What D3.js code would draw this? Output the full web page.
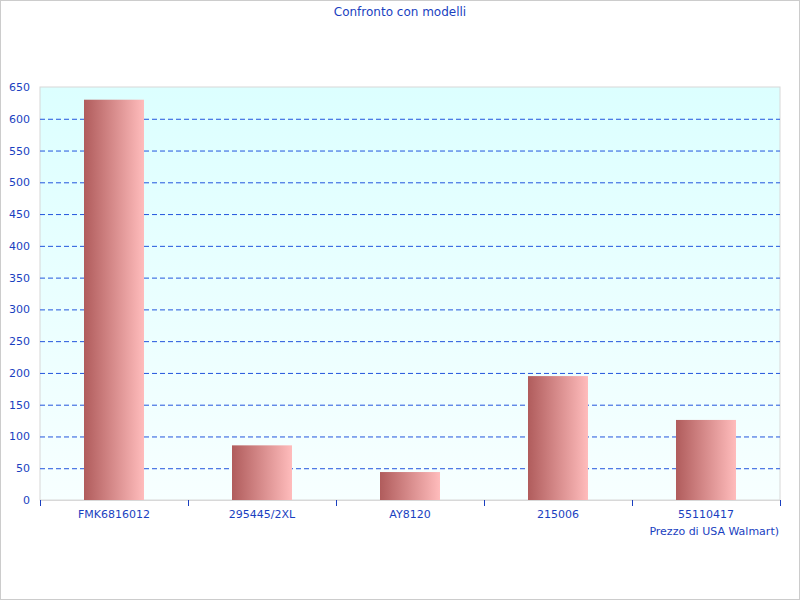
<!DOCTYPE html>
<html><head><meta charset="utf-8">
<script src="https://cdn.jsdelivr.net/npm/d3@7"></script>
<style>body{margin:0}svg{font-family:"DejaVu Sans",sans-serif}</style></head>
<body><svg id="c" width="800" height="600"></svg>
<script>
const categories=["FMK6816012","295445/2XL","AY8120","215006","55110417"];
const values=[630,86,44,195,126];
const yTicks=d3.range(0,651,50);
const svg=d3.select("#c");
const L=40,R=780,T=87,B=500,blue="#1a3fbf";
svg.append("rect").attr("x",0.5).attr("y",0.5).attr("width",799).attr("height",599).attr("fill","#fff").attr("stroke","#ccc");
const defs=svg.append("defs");
const bg=defs.append("linearGradient").attr("id","bg").attr("x1",0).attr("y1",0).attr("x2",0).attr("y2",1);
bg.append("stop").attr("offset",0).attr("stop-color","#dcffff");
bg.append("stop").attr("offset",1).attr("stop-color","#f7ffff");
const bar=defs.append("linearGradient").attr("id","bar");
bar.append("stop").attr("offset",0).attr("stop-color","#b05c5c");
bar.append("stop").attr("offset",1).attr("stop-color","#ffbcbc");
const x=d3.scaleBand().domain(categories).range([L,R]).paddingInner(0).paddingOuter(0);
const y=d3.scaleLinear().domain([0,650]).range([B,T]);
svg.append("rect").attr("x",L).attr("y",T).attr("width",R-L).attr("height",B-T).attr("fill","url(#bg)").attr("stroke","#d8d8d8");
svg.append("g").selectAll("line").data(yTicks.filter(d=>d>0&&d<650)).join("line")
 .attr("x1",L).attr("x2",R).attr("y1",d=>y(d)+0.5).attr("y2",d=>y(d)+0.5)
 .attr("stroke","#2255dd").attr("stroke-dasharray","5,3");
const bw=60;
svg.append("g").selectAll("rect").data(values).join("rect")
 .attr("x",(d,i)=>x(categories[i])+x.bandwidth()/2-bw/2).attr("width",bw)
 .attr("y",d=>y(d)).attr("height",d=>B-y(d)).attr("fill","url(#bar)");
svg.append("line").attr("x1",L).attr("x2",R).attr("y1",B+0.5).attr("y2",B+0.5).attr("stroke","#d8d8d8");
svg.append("g").selectAll("text").data(yTicks).join("text")
 .attr("x",30).attr("y",d=>y(d)+4).attr("text-anchor","end").attr("font-size",11).attr("fill",blue).text(d=>d);
svg.append("g").selectAll("line").data(d3.range(categories.length+1)).join("line")
 .attr("x1",i=>L+i*x.bandwidth()+0.5).attr("x2",i=>L+i*x.bandwidth()+0.5).attr("y1",B).attr("y2",B+6).attr("stroke",blue);
svg.append("g").selectAll("text").data(categories).join("text")
 .attr("x",d=>x(d)+x.bandwidth()/2).attr("y",518).attr("text-anchor","middle").attr("font-size",11).attr("fill",blue).text(d=>d);
svg.append("text").attr("x",779).attr("y",535).attr("text-anchor","end").attr("font-size",11).attr("fill",blue).text("Prezzo di USA Walmart)");
svg.append("text").attr("x",400).attr("y",16).attr("text-anchor","middle").attr("font-size",12).attr("fill",blue).text("Confronto con modelli");
</script></body></html>
